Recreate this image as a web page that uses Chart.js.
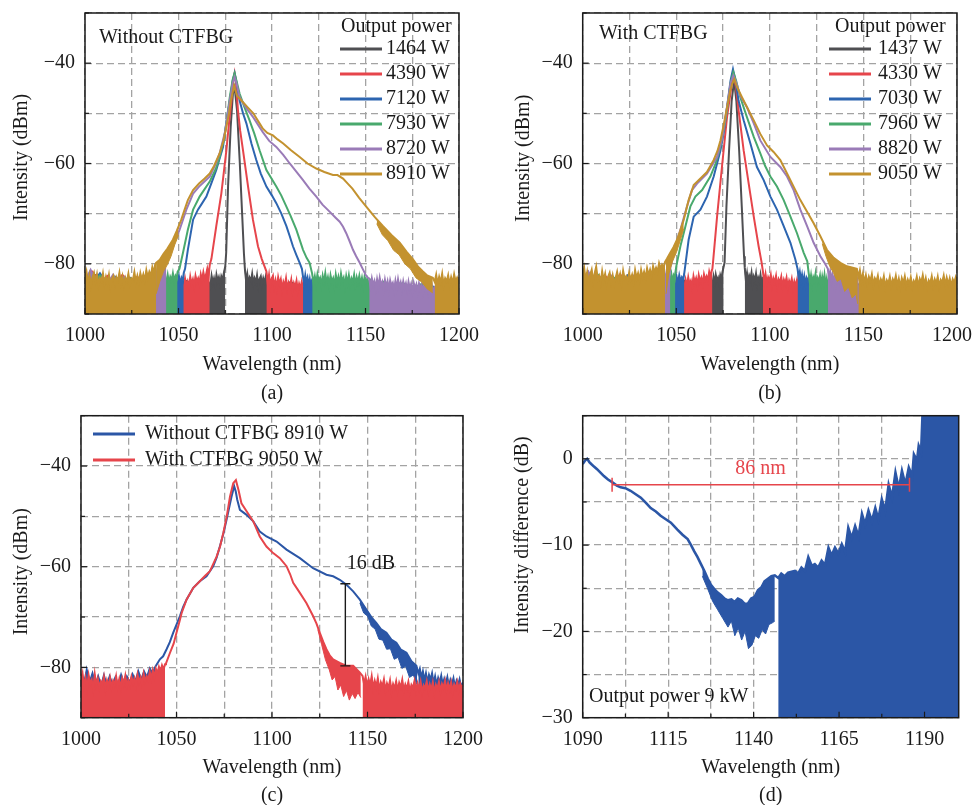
<!DOCTYPE html>
<html>
<head>
<meta charset="utf-8">
<script src="https://cdn.jsdelivr.net/npm/chart.js@4.4.1/dist/chart.umd.min.js"></script>
<style>
  html, body { margin: 0; padding: 0; background: #fff; width: 974px; height: 805px; overflow: hidden; }
  canvas { position: absolute; }
</style>
</head>
<body>
<canvas id="chartA" width="487" height="410" style="left:0;top:0"></canvas>
<canvas id="chartB" width="487" height="410" style="left:487px;top:0"></canvas>
<canvas id="chartC" width="487" height="410" style="left:0;top:400px"></canvas>
<canvas id="chartD" width="487" height="410" style="left:487px;top:400px"></canvas>
<script>
// ── Data: spectra, [wavelength nm, intensity dBm] ──
const wlTicks = [1000, 1025, 1050, 1075, 1100, 1125, 1150, 1175, 1200];
const dbmTicks = [-90, -80, -70, -60, -50, -40, -30];

// (a) without CTFBG
const aLabels = ['1464 W', '4390 W', '7120 W', '7930 W', '8720 W', '8910 W'];
const a1464 = [[1000,-83.5],[1006,-82.2],[1012,-84],[1018,-82.8],[1024,-84.3],[1030,-83],[1036,-84.2],[1042,-83.2],[1048,-84.5],[1054,-83.4],[1060,-84.5],[1066,-83.6],
  [1067,-84.6],[1067.7,-82.4],[1068.4,-83.9],[1069,-82.9],[1069.7,-84.3],[1070.3,-82.2],[1071,-83.5],[1071.6,-82.7],[1072.3,-84.1],[1072.9,-82.5],[1073.6,-83.2],[1074.2,-81.9],[1075,-80.5],
  [1075.5,-77.8],[1076.5,-64.6],[1077.9,-52.7],[1079.1,-46.1],[1080,-44.8],[1081.3,-49.4],[1082.7,-59.3],[1084.1,-70.6],[1085,-78],
  [1085.5,-81],[1086.2,-83.6],[1086.8,-82.1],[1087.5,-84.2],[1088.1,-82.8],[1088.8,-83.4],[1089.4,-82],[1090.1,-84],[1090.7,-82.9],[1091.4,-83.7],[1092,-82.3],[1092.7,-84.4],[1093.3,-83.1],[1094,-82.5],[1094.6,-84.2],[1095.3,-82.9],[1095.9,-83.8],[1096.6,-82.6],[1097.3,-84.1],
  [1100,-83.2],[1105,-84.8],[1110,-83.6],[1116,-85],[1122,-84],[1130,-85.3],[1140,-84.5],[1150,-85.5],[1160,-84.6],[1170,-85.6],[1180,-84.8],[1190,-85.5],[1200,-85.2]];
const a4390 = [[1000,-83],[1004,-81.6],[1008,-83.8],[1012,-82.4],[1016,-84.2],[1020,-82.2],[1024,-84],[1028,-82.6],[1032,-84.2],[1036,-82.8],[1040,-84],[1044,-83.2],[1048,-84.4],[1051,-83.4],
  [1052.8,-84.6],[1053.5,-82.9],[1054.2,-84.3],[1054.9,-83.5],[1055.6,-84.8],[1056.3,-82.6],[1057,-84],[1057.7,-83.1],[1058.4,-84.5],[1059.1,-82.4],[1059.8,-83.6],[1060.5,-82.9],[1061.2,-84],[1061.9,-82.1],[1062.6,-83.3],[1063.3,-81.7],[1064,-83],[1064.7,-82.2],[1065.4,-81],[1066.1,-82.4],[1066.7,-80.2],
  [1067.6,-79],[1070.2,-72.5],[1072.9,-66],[1075.6,-57.4],[1077,-52],[1078.3,-47.5],[1079.3,-43.5],[1080,-42],[1080.8,-44],[1081.8,-49.4],[1083,-53.5],[1084.5,-57.4],[1087.2,-64.6],[1089.8,-71.2],[1092.5,-76.5],[1094.5,-79],[1096,-80.5],
  [1097,-81.5],[1097.7,-83.8],[1098.4,-82.2],[1099.1,-84.5],[1099.8,-83],[1100.5,-82.4],[1101.2,-84.6],[1101.9,-83.3],[1102.6,-84.9],[1103.3,-82.7],[1104,-84],[1104.7,-83.1],[1105.4,-85.2],[1106.1,-83.6],[1106.8,-84.4],[1107.5,-82.9],[1108.2,-85],[1108.9,-83.8],[1109.6,-84.6],[1110.3,-83.2],[1111,-85.3],[1111.7,-83.9],[1112.4,-84.7],[1113.1,-83.4],[1113.8,-85.4],[1114.5,-84],[1115.2,-84.9],[1115.9,-83.6],[1116.6,-85.2],
  [1120,-84],[1125,-85.2],[1130,-84.2],[1136,-85.5],[1142,-84.4],[1150,-85.6],[1160,-84.6],[1170,-85.6],[1180,-84.8],[1190,-85.6],[1200,-85]];
const a7120 = [[1000,-82.4],[1004,-83.9],[1008,-81.9],[1012,-84.2],[1016,-82.6],[1020,-84.4],[1024,-82.8],[1028,-84],[1032,-83],[1036,-84.3],[1040,-83.1],[1044,-84.2],[1048,-83.2],
  [1049.5,-83.8],[1050.2,-82.4],[1050.9,-84.1],[1051.6,-82.8],[1052.3,-83.4],[1052.8,-81.8],
  [1053.5,-81],[1055,-77.2],[1057.8,-71.2],[1060.4,-69.2],[1062.5,-68],[1064.9,-66.6],[1067.5,-64],[1070.2,-61.3],[1072,-59],[1073.8,-56.7],[1075.5,-52],[1077.4,-47.5],[1079,-43.5],[1080,-42],[1081,-43.8],[1082.7,-47.5],[1084.5,-50],[1086.3,-52],[1089,-56],[1091.6,-59.3],[1094,-62],[1097,-64.6],[1100,-66.4],[1102.3,-67.9],[1105,-70],[1107.7,-72.5],[1109.5,-74.5],[1111.2,-76.5],[1113,-78.2],[1114.8,-79.8],[1116,-81],
  [1116.6,-82.6],[1117.2,-84],[1117.8,-82.3],[1118.4,-83.7],[1119,-82.8],[1119.6,-84.4],[1120.2,-83.1],[1120.8,-84.6],[1121.4,-83.3],
  [1124,-84.5],[1128,-83.3],[1132,-84.7],[1136,-83.5],[1140,-84.8],[1145,-83.6],[1150,-85],[1156,-84.1],[1162,-85.2],[1170,-84.4],[1178,-85.1],[1186,-84.5],[1194,-85.3],[1200,-84.8]];
const a7930 = [[1000,-82.6],[1004,-84],[1008,-82.3],[1012,-84.2],[1016,-82.7],[1020,-84.1],[1024,-82.9],[1028,-84.4],[1032,-83],[1036,-84],[1040,-83],
  [1043.5,-83.6],[1044.2,-82.2],[1044.9,-84],[1045.6,-82.6],[1046.3,-83.3],[1047,-81.9],[1047.7,-83.5],[1048.4,-82.4],[1049.1,-82.9],[1049.5,-81.6],
  [1050.5,-81],[1052.4,-77.8],[1055,-73.2],[1057.8,-69.2],[1061.3,-66.6],[1066.7,-63.6],[1070,-61],[1072,-58.7],[1074.5,-55],[1077.4,-46.8],[1079,-43.2],[1080,-42],[1081,-43.5],[1082.7,-46.1],[1085,-48.5],[1088,-51.4],[1090.5,-54],[1093.4,-57.4],[1097,-61.3],[1102.3,-64.6],[1105,-66.4],[1107.7,-68.6],[1110,-70.5],[1113,-73.2],[1116.6,-77.2],[1118.5,-78.8],[1120.1,-79.8],
  [1121.5,-82],[1122.2,-83.9],[1122.9,-82.5],[1123.6,-84.2],[1124.3,-82.1],[1125,-83.4],[1125.7,-82.8],[1126.4,-84.3],[1127.1,-82.4],[1127.8,-83.7],[1128.5,-81.9],[1129.2,-83.9],[1129.9,-82.7],[1130.6,-84.4],[1131.3,-82.3],[1132,-83.6],[1132.7,-82.9],[1133.4,-84.5],[1134.1,-82.2],[1134.8,-83.8],[1135.5,-82.6],[1136.2,-84.1],[1136.9,-82],[1137.6,-83.5],[1138.3,-82.8],[1139,-84.6],[1139.7,-82.5],[1140.4,-83.9],[1141.1,-82.3],[1141.8,-84.2],[1142.5,-82.9],[1143.2,-83.6],[1143.9,-82.2],[1144.6,-84.4],[1145.3,-82.7],[1146,-83.8],[1146.7,-82.4],[1147.4,-84.1],[1148.1,-82.8],[1148.8,-84.5],[1149.5,-82.6],[1150.2,-83.9],[1150.9,-83],[1151.6,-84.3],[1152.3,-83.1],
  [1156,-84.5],[1160,-83.5],[1165,-84.8],[1170,-83.8],[1175,-85],[1180,-84],[1185,-85],[1190,-84.2],[1195,-85.2],[1200,-84.5]];
const a8720 = [[1000,-83.5],[1003,-81.2],[1006,-83.8],[1009,-82.8],[1012,-84],[1015,-82.2],[1018,-84.3],[1021,-82.6],[1024,-84],[1027,-82.8],[1030,-83.5],[1033,-82],[1036,-83],
  [1037,-82.2],[1037.7,-83.4],[1038.4,-81.8],[1039.1,-83],[1039.8,-81.4],[1040.5,-82.6],[1041.2,-80.9],[1041.9,-81.8],[1042.6,-80.3],[1043.5,-79.8],
  [1044.4,-79],[1047,-76.5],[1050.6,-73.2],[1054.2,-69.2],[1057.8,-66],[1061,-64.6],[1066.7,-62.6],[1070,-60],[1072,-58],[1075,-53.5],[1077.4,-47.5],[1079,-44],[1080,-42.8],[1081,-44],[1082.7,-46.8],[1086,-48.8],[1090,-50.8],[1095,-53.7],[1098.5,-55.5],[1102.3,-56.7],[1106,-58.3],[1109.5,-60],[1113,-61.6],[1116.6,-63.3],[1120,-65],[1123.7,-66.6],[1127,-68.2],[1130.8,-69.6],[1134,-70.8],[1136.2,-71.6],[1138,-72.6],[1139.7,-73.9],[1141.5,-75.5],[1143.3,-77.2],[1145,-78.5],[1146.9,-79.8],[1148.5,-81],[1150.4,-82.4],
  [1152,-83],[1152.7,-84.6],[1153.4,-82.9],[1154.1,-84.2],[1154.8,-83.4],[1155.5,-85],[1156.2,-83.1],[1156.9,-84.5],[1157.6,-82.8],[1158.3,-84.3],[1159,-83.6],[1159.7,-85.1],[1160.4,-83.2],[1161.1,-84.7],[1161.8,-83.5],[1162.5,-85.2],[1163.2,-83.3],[1163.9,-84.4],[1164.6,-83.8],[1165.3,-85.3],[1166,-83.4],[1166.7,-84.9],[1167.4,-83.1],[1168.1,-84.6],[1168.8,-83.7],[1169.5,-85.2],[1170.2,-83.5],[1170.9,-84.8],[1171.6,-83.9],[1172.3,-85.4],[1173,-83.6],[1173.7,-85],[1174.4,-84],[1175.1,-85.5],[1175.8,-83.8],[1176.5,-84.9],[1177.2,-84.1],[1177.9,-85.6],[1178.6,-83.9],[1179.3,-85.1],[1180,-84.2],[1180.7,-85.7],[1181.4,-84],[1182.1,-85.3],[1182.8,-84.4],[1183.5,-85.8],[1184.2,-84.1],[1184.9,-85.4],[1185.6,-84.5],[1186.3,-85.9],[1187,-84.6],
  [1190,-85.2],[1194,-84.8],[1197,-85.6],[1200,-85]];
const a8910 = [[1000,-83],[1000.8,-81.6],[1001.6,-83.9],[1002.4,-82.3],[1003.2,-84.4],[1004,-82.7],[1004.8,-81.8],[1005.6,-83.6],[1006.4,-82.1],[1007.2,-84.2],[1008,-82.9],[1008.8,-83.5],[1009.6,-81.9],[1010.4,-84],[1011.2,-82.6],[1012,-83.8],[1012.8,-82.2],[1013.6,-84.5],[1014.4,-83],[1015.2,-82.4],[1016,-84.1],[1016.8,-82.7],[1017.6,-83.4],[1018.4,-81.8],[1019.2,-83.9],[1020,-82.5],[1020.8,-84.3],[1021.6,-82.8],[1022.4,-83.6],[1023.2,-82],[1024,-84],[1024.8,-82.9],[1025.6,-83.3],[1026.4,-81.7],[1027.2,-83.7],[1028,-82.4],[1028.8,-83.8],[1029.6,-81.9],[1030.4,-83.2],[1031.2,-82.1],[1032,-83.4],[1032.8,-81.3],[1033.6,-82.8],[1034.4,-81.6],[1035.2,-82.4],[1036,-80.7],[1036.8,-81.9],[1037.5,-80.2],[1038,-79.8],
  [1040,-79.2],[1042,-78],[1044,-77],[1047,-75.2],[1049,-73.5],[1051.5,-71.2],[1053,-69.5],[1055,-67.3],[1057.8,-65.3],[1061,-64],[1064,-63],[1066.7,-62],[1069,-60.5],[1072,-58],[1074,-55.5],[1075.6,-52.7],[1077,-50],[1078,-47.5],[1079.7,-44.5],[1081.3,-46.5],[1084.5,-47.8],[1087,-48.8],[1090,-50],[1092.5,-51.5],[1095,-53],[1097.5,-53.9],[1100.5,-54.4],[1103,-55.2],[1106,-56],[1110,-57.3],[1114.8,-58.7],[1119,-60],[1123.7,-61],[1128,-61.7],[1132.6,-62.3],[1135,-62.3],[1138,-63],[1140.5,-64],[1143,-65],[1146.5,-66.8],[1150.4,-68.6],[1155,-70.7],[1159.4,-72.5],[1164,-74.3],[1168.3,-75.8],[1172,-77.6],[1175.4,-79.1],[1178,-80.5],[1180.7,-81.5],[1183,-82.3],[1186,-82.8],
  [1187,-83.6],[1187.8,-82.2],[1188.6,-84.1],[1189.4,-82.6],[1190.2,-83.7],[1191,-82],[1191.8,-84.3],[1192.6,-82.9],[1193.4,-83.5],[1194.2,-82.3],[1195,-84.2],[1195.8,-82.7],[1196.6,-83.9],[1197.4,-82.1],[1198.2,-83.6],[1199,-82.8],[1200,-83.8]];
// lower edge of the broad noisy parts of the 8910 W trace
const a8910Low = [
  [[1038,-86],[1040,-83.5],[1042,-81.5],[1044,-80.2],[1046,-78.5],[1048,-76.2],[1050,-74.3]],
  [[1156,-72],[1159,-74.2],[1162,-75.4],[1165,-77.3],[1168,-78.2],[1171,-80],[1174,-81],[1177,-82.8],[1180,-83.6],[1183,-85],[1186,-85.8]]
];
// where each trace sinks into the noise floor (left edge, right edge), nm
const aNoiseEdges = [[1075, 1085.5], [1067, 1097], [1052.8, 1116.5], [1049.5, 1121], [1043.5, 1152], [1038, 1187]];

// (b) with CTFBG
const bLabels = ['1437 W', '4330 W', '7030 W', '7960 W', '8820 W', '9050 W'];
const b1437 = [[1000,-83.8],[1006,-82.4],[1012,-84.2],[1018,-82.8],[1024,-84.5],[1030,-83],[1036,-84.3],[1042,-83.2],[1048,-84.6],[1054,-83.3],[1060,-84.6],[1066,-83.4],
  [1069.3,-84.3],[1069.9,-82.6],[1070.5,-83.9],[1071.1,-82.2],[1071.7,-83.4],[1072.3,-82.8],[1072.9,-84],[1073.5,-82.3],[1074.1,-83.1],[1074.7,-81.6],[1075.3,-80.6],
  [1075.8,-79.8],[1076.8,-68.6],[1078.2,-57.4],[1079.6,-47.5],[1080.9,-43.5],[1082.1,-47.5],[1083.6,-57.4],[1085,-68.6],[1086.2,-78.5],
  [1086.6,-80.8],[1087.2,-83.3],[1087.8,-81.9],[1088.4,-83.8],[1089,-82.4],[1089.6,-83.1],[1090.2,-81.8],[1090.8,-83.9],[1091.4,-82.6],[1092,-83.4],[1092.6,-82],[1093.2,-84.1],[1093.8,-82.8],[1094.4,-83.5],[1095,-82.2],[1095.6,-84],[1096.2,-82.9],
  [1100,-84.6],[1105,-83.3],[1110,-84.8],[1116,-83.6],[1122,-85],[1130,-84],[1140,-85.3],[1150,-84.3],[1160,-85.4],[1170,-84.5],[1180,-85.4],[1190,-84.6],[1200,-85.3]];
const b4330 = [[1000,-83.4],[1004,-81.9],[1008,-84],[1012,-82.4],[1016,-84.2],[1020,-82.1],[1024,-84.3],[1028,-82.6],[1032,-84],[1036,-82.8],[1040,-84.4],[1044,-83],[1048,-84.4],[1052,-83.2],
  [1054.3,-84.8],[1055,-83.2],[1055.7,-84.5],[1056.4,-82.7],[1057.1,-84.1],[1057.8,-83.4],[1058.5,-84.7],[1059.2,-82.5],[1059.9,-83.8],[1060.6,-82.9],[1061.3,-84.3],[1062,-82.3],[1062.7,-83.6],[1063.4,-82.8],[1064.1,-84],[1064.8,-82.1],[1065.5,-83.2],[1066.2,-82.5],[1066.9,-83.4],[1067.6,-81.6],[1068.3,-82.7],[1068.9,-81.4],[1069.3,-81],
  [1069.8,-79],[1071.8,-70.6],[1074.4,-60.7],[1077.1,-50.8],[1079.8,-43.8],[1081,-42.8],[1082,-45],[1083.3,-49.4],[1086,-57.4],[1088.7,-64],[1091.4,-70.6],[1094,-76.5],[1095.5,-79.5],
  [1096.3,-81.5],[1097,-83.6],[1097.7,-82.1],[1098.4,-84],[1099.1,-82.7],[1099.8,-83.4],[1100.5,-82.2],[1101.2,-84.3],[1101.9,-82.9],[1102.6,-83.7],[1103.3,-82.4],[1104,-84.5],[1104.7,-83.1],[1105.4,-83.8],[1106.1,-82.6],[1106.8,-84.6],[1107.5,-83.2],[1108.2,-84],[1108.9,-82.8],[1109.6,-84.8],[1110.3,-83.4],[1111,-84.2],[1111.7,-83],[1112.4,-84.9],[1113.1,-83.5],[1113.8,-84.4],[1114.5,-83.2],[1115.2,-85],
  [1120,-83.6],[1125,-85.2],[1130,-84],[1136,-85.4],[1142,-84.2],[1150,-85.5],[1160,-84.4],[1170,-85.6],[1180,-84.5],[1190,-85.5],[1200,-84.8]];
const b7030 = [[1000,-82.6],[1004,-84.2],[1008,-82.3],[1012,-84.4],[1016,-82.6],[1020,-84.1],[1024,-82.3],[1028,-84.4],[1032,-82.9],[1036,-84.5],[1040,-83.1],[1044,-84.2],[1048,-83.3],
  [1049.5,-84.2],[1050.2,-82.6],[1050.9,-83.9],[1051.6,-82.3],[1052.3,-83.5],[1053,-82.7],[1053.7,-83.2],[1054.3,-81.8],
  [1055,-79.8],[1056.6,-75.2],[1059.3,-70.6],[1062.9,-69.2],[1066.4,-66.6],[1070,-62.6],[1073.6,-57.4],[1075.5,-53.5],[1077.1,-48.8],[1079,-43.5],[1080.3,-41.2],[1081.8,-43.8],[1083.3,-47.5],[1086,-51.4],[1089.6,-56],[1093.1,-60.7],[1096.7,-63.3],[1100.3,-66.6],[1103.8,-69.2],[1107.4,-72.5],[1111,-75.8],[1113.6,-79.1],[1114.8,-81],
  [1115.4,-82.7],[1116,-81.6],[1116.6,-83.4],[1117.2,-82.2],[1117.8,-83.9],[1118.4,-82.5],[1119,-84.1],[1119.6,-82.9],[1120.2,-83.6],[1120.8,-82.6],
  [1124,-84.3],[1128,-83],[1132,-84.6],[1136,-83.3],[1140,-84.7],[1145,-83.5],[1150,-84.9],[1156,-83.9],[1162,-85.1],[1170,-84.2],[1178,-85.2],[1186,-84.3],[1194,-85],[1200,-84.6]];
const b7960 = [[1000,-82.2],[1004,-84],[1008,-82.1],[1012,-84.3],[1016,-82.5],[1020,-84],[1024,-82.8],[1028,-84.4],[1032,-82.6],[1036,-84],[1040,-83],[1044,-84.2],
  [1046.8,-83.4],[1047.4,-82.1],[1048,-83.7],[1048.6,-82.4],[1049.2,-83],[1049.5,-81.8],
  [1050,-80.5],[1052.2,-76.5],[1054.9,-72.5],[1057.5,-68.6],[1060.2,-66.6],[1063.8,-65.3],[1068.2,-62.6],[1071,-60],[1073.6,-56.7],[1075.5,-53],[1077.1,-49.4],[1079,-44],[1080.5,-41.8],[1082,-43.5],[1084.2,-46.8],[1087.8,-50.8],[1091.4,-54.7],[1094.9,-58],[1097.5,-60.5],[1100.3,-62.6],[1103.8,-64.6],[1107.4,-67.3],[1111,-70.6],[1114.5,-73.9],[1118.1,-77.8],[1120,-79.5],
  [1120.8,-82],[1121.4,-83.8],[1122,-82.3],[1122.6,-84.1],[1123.2,-82.7],[1123.8,-83.4],[1124.4,-82],[1125,-84.2],[1125.6,-82.9],[1126.2,-83.6],[1126.8,-82.4],[1127.4,-84.4],[1128,-82.6],[1128.6,-83.9],[1129.2,-82.2],[1129.8,-84.3],[1130.4,-83],[1131,-84.5],
  [1135,-83],[1139,-84.6],[1143,-83.2],[1147,-84.8],[1152,-83.5],[1158,-85],[1164,-83.6],[1170,-85.2],[1176,-83.8],[1182,-85],[1188,-84],[1194,-85.2],[1200,-84.4]];
const b8820 = [[1000,-83],[1003,-81.5],[1006,-84],[1009,-82.5],[1012,-84.2],[1015,-82.3],[1018,-84],[1021,-82.6],[1024,-84.3],[1027,-82.4],[1030,-84],[1033,-82.8],[1036,-84],[1039,-83],[1042,-82.5],
  [1044,-83.2],[1044.6,-81.9],[1045.2,-82.9],[1045.8,-81.5],[1046.4,-82.2],[1046.8,-80.8],
  [1047.5,-79.8],[1049.5,-76.5],[1052.2,-73.2],[1055.7,-68.6],[1058.4,-65.3],[1061.1,-64],[1066.4,-62],[1071.8,-58.7],[1074.5,-55],[1077.1,-48.8],[1079,-44],[1080.5,-42.5],[1082,-43.8],[1084.2,-46.5],[1087.8,-48.8],[1091.4,-52],[1094.9,-55.4],[1100.3,-58.7],[1105.6,-60.7],[1109.2,-62.6],[1112.7,-65.3],[1116.3,-69.2],[1119.9,-72.5],[1123.4,-75.8],[1127,-78.5],[1129.5,-80],[1131,-81],
  [1131.6,-82.8],[1132.2,-81.6],[1132.8,-83.4],[1133.4,-82.1],[1134,-83.9],[1134.6,-82.4],[1135.2,-84.2],[1135.8,-82.6],[1136.4,-83.5],[1137,-82.2],[1137.6,-84.3],[1138.2,-82.9],[1138.8,-83.7],[1139.4,-82.5],[1140,-84.5],[1140.6,-83],[1141.2,-83.9],[1141.8,-82.7],[1142.4,-84.6],[1143,-83.2],[1143.6,-84.1],[1144.2,-82.8],[1144.8,-84.7],[1145.4,-83.4],[1146,-84.2],[1146.6,-83],[1147.2,-84.8],
  [1150,-83.5],[1155,-85],[1160,-84],[1165,-85.3],[1170,-84.2],[1175,-85.3],[1180,-84.4],[1185,-85],[1190,-84],[1195,-85.2],[1200,-84.5]];
const b9050 = [[1000,-82.5],[1000.8,-80.9],[1001.6,-83.4],[1002.4,-81.7],[1003.2,-83.9],[1004,-82.2],[1004.8,-81.2],[1005.6,-83.5],[1006.4,-81.9],[1007.2,-80.6],[1008,-83.1],[1008.8,-82.4],[1009.6,-83.8],[1010.4,-81.5],[1011.2,-83.3],[1012,-82],[1012.8,-84],[1013.6,-82.6],[1014.4,-81.8],[1015.2,-83.7],[1016,-82.3],[1016.8,-84.1],[1017.6,-82.8],[1018.4,-81.6],[1019.2,-83.4],[1020,-82.1],[1020.8,-83.9],[1021.6,-81.4],[1022.4,-83],[1023.2,-82.5],[1024,-83.6],[1024.8,-81.8],[1025.6,-83.2],[1026.4,-82.2],[1027.2,-83.7],[1028,-81.3],[1028.8,-82.9],[1029.6,-81.9],[1030.4,-83.3],[1031.2,-81.2],[1032,-82.7],[1032.8,-81.6],[1033.6,-82.9],[1034.4,-80.9],[1035.2,-82.3],[1036,-81.2],[1036.8,-82.5],[1037.6,-80.5],[1038.4,-81.7],[1039.2,-80.8],[1040,-81.6],[1040.8,-79.9],[1041.6,-81],[1042.4,-80.2],[1043.2,-80.8],[1044,-79.6],
  [1045,-79],[1046.8,-77.8],[1048.5,-76.7],[1050.4,-75.2],[1052,-73.5],[1054,-71.2],[1056.6,-67.3],[1059.3,-64.3],[1062.9,-63],[1066.4,-61.7],[1070,-59.3],[1072,-57.5],[1073.6,-55.4],[1075.5,-52],[1077.1,-48.8],[1079,-45.2],[1080,-44],[1081,-43.2],[1082.5,-44.8],[1085.1,-46.8],[1087.8,-48.8],[1091.4,-51.4],[1094.9,-54.1],[1098.5,-56.4],[1102,-57.7],[1105.6,-59.3],[1109.2,-62],[1112.7,-64.6],[1116.3,-67.3],[1119.9,-69.6],[1123.4,-71.9],[1127,-74.5],[1130.5,-77.2],[1134.1,-78.8],[1137.7,-79.8],[1141.2,-80.5],[1144.8,-80.8],[1146.5,-81],
  [1147.3,-82.6],[1148.1,-81.3],[1148.9,-83.4],[1149.7,-82],[1150.5,-83.7],[1151.3,-82.3],[1152.1,-84.1],[1152.9,-82.6],[1153.7,-83.5],[1154.5,-82.1],[1155.3,-84.2],[1156.1,-82.9],[1156.9,-83.6],[1157.7,-82.4],[1158.5,-84.4],[1159.3,-83.1],[1160.1,-83.9],[1160.9,-82.5],[1161.7,-84.6],[1162.5,-83.3],[1163.3,-84],[1164.1,-82.6],[1164.9,-84.5],[1165.7,-83.1],[1166.5,-83.8],[1167.3,-82.4],[1168.1,-84.3],[1168.9,-83],[1169.7,-84.7],[1170.5,-82.9],[1171.3,-83.9],[1172.1,-82.5],[1172.9,-84.4],[1173.7,-83.2],[1174.5,-84.1],[1175.3,-82.7],[1176.1,-84.6],[1176.9,-83.4],[1177.7,-84],[1178.5,-82.6],[1179.3,-84.5],[1180.1,-83],[1180.9,-83.8],[1181.7,-82.3],[1182.5,-84.2],[1183.3,-82.9],[1184.1,-84.7],[1184.9,-83.3],[1185.7,-83.9],[1186.5,-82.5],[1187.3,-84.4],[1188.1,-83.1],[1188.9,-84],[1189.7,-82.6],[1190.5,-84.6],[1191.3,-83.2],[1192.1,-83.7],[1192.9,-82.4],[1193.7,-84.3],[1194.5,-82.8],[1195.3,-84.1],[1196.1,-82.9],[1196.9,-84.5],[1197.7,-83.1],[1198.5,-83.8],[1199.3,-82.7],[1200,-83.6]];
const b9050Low = [
  [[1044.5,-86],[1046,-82],[1048,-79.5],[1050,-77.8],[1052,-75.5],[1054,-73]],
  [[1128,-76],[1130,-78.5],[1132,-80.5],[1134,-81.8],[1136,-83.5],[1138,-83],[1140,-85.5],[1142,-84.6],[1144,-86.8],[1146,-86],[1147,-88]]
];
const bNoiseEdges = [[1075.3, 1086.6], [1069.3, 1096], [1054.3, 1114.8], [1049.5, 1120.2], [1046.8, 1131], [1044.5, 1147]];

// (c) comparison at full power
const cLabels = ['Without CTFBG 8910 W', 'With CTFBG 9050 W'];
const cWithout = [[1000,-81.5],[1001.5,-83.5],[1003,-80.5],[1004.5,-83],[1006,-81.2],[1007.5,-83.5],[1009,-81.8],[1010.5,-83.8],[1012,-81.6],[1013.5,-83.6],[1015,-81.8],[1016.5,-83.4],[1018,-82],[1019.5,-83.6],[1021,-81.5],[1022.5,-83.2],[1024,-81.8],[1025.5,-83],[1027,-81.4],[1028.5,-82.8],[1030,-80.8],[1031.5,-82.5],[1033,-80.8],[1034.5,-82],[1036,-80.2],[1037.5,-81.2],[1039,-79.8],
  [1041.3,-78.4],[1043,-77.8],[1044.8,-76.4],[1046.5,-75],[1048.3,-73.1],[1050,-71.5],[1051.8,-69.8],[1053.5,-68],[1055.3,-66.5],[1058.8,-64.2],[1062.2,-62.9],[1065.7,-61.9],[1069.2,-59.9],[1071,-58.2],[1072.7,-56],[1074.5,-53.5],[1076.2,-50.7],[1078.8,-46.1],[1080.2,-44],[1081,-45],[1081.8,-46.7],[1083.2,-48.7],[1086.7,-49.7],[1090.2,-51],[1093.6,-53],[1097.1,-54],[1102.4,-55],[1107.6,-56.6],[1114.6,-58.3],[1121.5,-60.3],[1128.5,-61.6],[1132,-61.9],[1135.5,-62.6],[1139,-63.6],[1142.5,-64.9],[1145.9,-66.5],[1149.4,-68.5],[1152,-70],[1154.7,-71.2],[1157,-72.4],[1159.9,-73.1],[1162.5,-74.5],[1165.1,-75.1],[1167.5,-76.5],[1170.4,-77.1],[1173,-78.8],[1175.6,-79.7],
  [1176.6,-81.2],[1177.4,-80.3],[1178.2,-82],[1179,-80.8],[1179.8,-82.6],[1180.6,-81.2],[1181.4,-83],[1182.2,-81.5],[1183,-82.4],[1183.8,-81.2],[1184.6,-83.2],[1185.4,-81.8],[1186.2,-83.5],[1187,-82.1],[1187.8,-83.1],[1188.6,-81.7],[1189.4,-83.6],[1190.2,-82.3],[1191,-83.3],[1191.8,-82],[1192.6,-83.8],[1193.4,-82.5],[1194.2,-83.4],[1195,-82.2],[1195.8,-84],[1196.6,-82.7],[1197.4,-83.6],[1198.2,-82.4],[1199,-83.9],[1200,-83]];
const cWithoutLow = [[[1146,-67.2],[1148,-69.2],[1150,-69.8],[1152,-71.8],[1154,-72.4],[1156,-74.4],[1158,-74.6],[1160,-76.4],[1162,-76.3],[1164,-78.4],[1166,-78],[1168,-80.2],[1170,-79.8],[1172,-82],[1174,-81.5],[1176,-83.5]]];
const cWith = [[1000,-82.5],[1000.8,-81.2],[1001.6,-83.8],[1002.4,-82.1],[1003.2,-84.2],[1004,-81.6],[1004.8,-83.3],[1005.6,-82.5],[1006.4,-84.4],[1007.2,-81.4],[1008,-83.6],[1008.8,-82.3],[1009.6,-84.1],[1010.4,-82.8],[1011.2,-83.4],[1012,-81.9],[1012.8,-84.3],[1013.6,-82.6],[1014.4,-83.7],[1015.2,-82.1],[1016,-84],[1016.8,-82.7],[1017.6,-83.5],[1018.4,-81.8],[1019.2,-83.9],[1020,-82.4],[1020.8,-84.2],[1021.6,-82.2],[1022.4,-83.3],[1023.2,-81.7],[1024,-83.8],[1024.8,-82.5],[1025.6,-83.6],[1026.4,-81.9],[1027.2,-83.2],[1028,-82.2],[1028.8,-83.7],[1029.6,-81.5],[1030.4,-83],[1031.2,-82],[1032,-83.4],[1032.8,-81.3],[1033.6,-82.8],[1034.4,-81.8],[1035.2,-82.6],[1036,-80.9],[1036.8,-82.3],[1037.6,-80.6],[1038.4,-81.9],[1039.2,-80.3],[1040,-81.2],[1040.8,-79.9],[1041.6,-80.8],[1042.4,-79.6],[1043.2,-80.4],[1044,-79.4],
  [1044.5,-79.2],[1046.6,-77.1],[1048.5,-75.3],[1050,-73.1],[1051.5,-71],[1052.7,-69.2],[1055.3,-66.5],[1058.8,-64.2],[1062.2,-62.9],[1065,-61.8],[1067.5,-60.9],[1071,-58],[1072.8,-56],[1074.5,-53.3],[1076.3,-50],[1078,-46.1],[1079.7,-43.4],[1081.1,-42.8],[1082.5,-44.8],[1084,-47.4],[1086.7,-49],[1090.2,-51],[1093.6,-54],[1097.1,-56],[1100.6,-57.3],[1104.1,-58.3],[1107.6,-59.9],[1109.5,-61.5],[1111.1,-63.2],[1114.6,-65.2],[1118,-67.2],[1121.5,-69.8],[1123.3,-71.3],[1125,-73.1],[1126.8,-74.9],[1128.5,-76.4],[1130.2,-77.6],[1132,-78.4],[1135.5,-79.1],[1139,-79.7],[1142.5,-79.7],[1145.9,-81],
  [1147.4,-81.7],[1148.2,-83.3],[1149,-81.9],[1149.8,-84],[1150.6,-82.4],[1151.4,-83.6],[1152.2,-81.8],[1153,-84.2],[1153.8,-82.7],[1154.6,-83.9],[1155.4,-82.2],[1156.2,-84.5],[1157,-83],[1157.8,-83.8],[1158.6,-82.4],[1159.4,-84.6],[1160.2,-83.2],[1161,-84.1],[1161.8,-82.6],[1162.6,-84.8],[1163.4,-83.3],[1164.2,-84.2],[1165,-82.8],[1165.8,-84.7],[1166.6,-83.1],[1167.4,-84],[1168.2,-82.5],[1169,-84.6],[1169.8,-83.4],[1170.6,-84.3],[1171.4,-82.9],[1172.2,-84.9],[1173,-83.5],[1173.8,-84.1],[1174.6,-82.7],[1175.4,-84.7],[1176.2,-83.2],[1177,-84.4],[1177.8,-82.9],[1178.6,-85],[1179.4,-83.6],[1180.2,-84.2],[1181,-82.8],[1181.8,-84.8],[1182.6,-83.4],[1183.4,-84.5],[1184.2,-83],[1185,-85.1],[1185.8,-83.5],[1186.6,-84.3],[1187.4,-82.9],[1188.2,-84.8],[1189,-83.3],[1189.8,-84.1],[1190.6,-82.7],[1191.4,-84.6],[1192.2,-83.2],[1193,-84.4],[1193.8,-83],[1194.6,-84.9],[1195.4,-83.4],[1196.2,-84.2],[1197,-82.9],[1197.8,-84.6],[1198.6,-83.3],[1199.4,-84.1],[1200,-83.5]];
const cWithLow = [[[1124,-72.5],[1126,-75.5],[1128,-78.5],[1130,-80.5],[1131.5,-82.5],[1133,-81.8],[1134.5,-84.5],[1136,-83.5],[1137.5,-85.8],[1139,-84.6],[1140.5,-86.5],[1142,-85.2],[1143.5,-86.2],[1145,-85],[1146.5,-86]]];
const cNoiseEdges = [[1039, 1176.5], [1044.3, 1147.4]];
const cGap = [[1138.4, -63.4], [1138.4, -79.7]];   // 16 dB marker

// (d) intensity difference, [wavelength nm, dB]
const dWlTicks = [1090, 1102.5, 1115, 1127.5, 1140, 1152.5, 1165, 1177.5, 1190];
const dDbTicks = [-30, -25, -20, -15, -10, -5, 0, 5];
const dDiff = [[1090,-0.6],[1090.7,-0.2],[1091.3,0],[1092,-0.4],[1092.5,-0.6],[1093.3,-0.9],[1094.2,-1.2],[1095.2,-1.6],[1096.2,-2.0],[1097.4,-2.4],[1098.6,-2.7],[1100,-3.1],[1101.1,-3.3],[1102.5,-3.4],[1104,-3.7],[1105.5,-4.1],[1107,-4.5],[1108.5,-5.1],[1109.9,-5.7],[1111.4,-6.1],[1112.8,-6.6],[1114.3,-7],[1115.8,-7.4],[1117.7,-8.2],[1119.2,-8.8],[1120.7,-9.3],[1121.7,-10],[1122.6,-10.7],[1123.6,-11.4],[1124.6,-12.2],[1125.6,-13],[1126.6,-13.9],[1127.5,-14.6],[1128.5,-15.1],[1129.5,-15.5],[1130.5,-15.8],[1131.5,-16.2],[1132.5,-16.4],[1133.5,-16.3],[1134.4,-16.6],[1135.4,-16.2],[1136.4,-16.4],[1137.4,-16.8],[1138.3,-16.8],[1139.3,-16.2],[1140.3,-16],[1141.3,-15.2],[1142.3,-14.9],[1143.2,-14.2],[1144.2,-13.9],[1145.2,-13.6],[1146.2,-13.5],[1147.2,-13.8],[1148.1,-13.3],[1149.1,-13.6],[1150.1,-13.2],[1151.1,-13.1],[1152.1,-13],[1153,-13.3],[1154,-12.6],[1155,-13],[1156,-11.4],[1157,-12.4],[1157.9,-12.2],[1158.9,-12.6],[1159.9,-11.8],[1160.9,-12.3],[1161.9,-10.3],[1162.8,-11.2],[1163.8,-10.3],[1164.8,-11],[1165.8,-9.9],[1166.8,-10.8],[1167.7,-8],[1168.7,-9.2],[1169.7,-7.8],[1170.7,-9],[1171.7,-6.4],[1172.6,-7.6],[1173.6,-6],[1174.6,-7.2],[1175.6,-5.7],[1176.5,-7],[1177.5,-4.7],[1178.5,-6],[1179.5,-3],[1180.5,-4.5],[1181.5,-1.6],[1182.5,-3.5],[1183.4,-1.4],[1184.4,-3],[1185.4,-1],[1186.4,-2],[1186.9,0.5],[1187.8,-0.2],[1188.3,1.5],[1189,0.8],[1189.5,6],[1200,6]];
const dDiffLow = [[1125,-13.6],[1126.5,-15],[1128,-16.5],[1129.5,-17.5],[1131,-18.5],[1132.5,-19.5],[1133.5,-18.8],[1134.5,-20.5],[1135.5,-19.6],[1136.5,-21],[1137.5,-20],[1138.5,-22],[1139.5,-21.6],[1140.5,-20.5],[1141.5,-20.8],[1142.5,-19.8],[1143.5,-20.3],[1144.5,-19.2],[1145.5,-19],[1146.2,-18.8]];
const dNoiseFrom = 1146.5;
const dSpan = [[1098.6, -3], [1185.6, -3]];   // 86 nm marker

// ── Styling ──
const SERIES_COLORS = ['#4f4f52', '#e6454b', '#2d65b0', '#49a96d', '#9a7bb7', '#c3922f'];
const C_BLUE = '#2b56a6', C_RED = '#e6454b';
const INK = '#1a1a1a';
const GRID = '#a3a3a3';
const FONT = "'Liberation Serif', 'Times New Roman', serif";

Chart.defaults.font.family = FONT;
Chart.defaults.font.size = 20;
Chart.defaults.color = INK;

const minus = v => (v < 0 ? '\u2212' + Math.abs(v) : String(v));
const toXY = pts => pts.map(([x, y]) => ({x, y}));

// one spectrum = its trace + filled noise floor on each side
function spectrumSets(points, edges, color, label, order, width) {
  const pts = toXY(points);
  const base = {borderColor: color, backgroundColor: color, pointRadius: 0, tension: 0, order};
  return [
    {...base, label, data: pts, borderWidth: width || 2, fill: false},
    {...base, label: '', data: pts.filter(p => p.x <= edges[0]), borderWidth: 1, fill: 'start'},
    {...base, label: '', data: pts.filter(p => p.x >= edges[1]), borderWidth: 1, fill: 'start'}
  ];
}
// noisy parts of a trace: filled down to a lower edge
function bandSets(lows, color, target, order) {
  return (lows || []).map(low => ({label: '', data: toXY(low), borderColor: color, backgroundColor: color,
    borderWidth: 1, pointRadius: 0, tension: 0, fill: {target}, order}));
}

// lastPad: the rightmost label of panel (b) sits a little left of its tick, as in the original
function xAxis(values, max, every, caption, height, lh, pb, lastPad) {
  const min = values[0];
  return {
    type: 'linear', min, max,
    afterBuildTicks: s => { s.ticks = values.map(v => ({value: v})); },
    ticks: {autoSkip: false, maxRotation: 0, padding: 10,
      callback: v => {
        if (Math.abs((v - min) % every) > 1e-6) return '';
        return v === max && lastPad ? String(v) + lastPad : String(v);
      }},
    grid: {color: GRID, lineWidth: 1.3, drawTicks: false},
    border: {display: false, dash: [7, 4]},
    title: {display: true, text: ['Wavelength (nm)', caption], font: {size: 20, lineHeight: lh}, padding: {top: 0, bottom: pb}},
    afterFit: s => { s.height = height; s.paddingLeft = 0; s.paddingRight = 0; }
  };
}

function yAxis(values, every, width) {
  return {
    type: 'linear', min: values[0], max: values[values.length - 1],
    afterBuildTicks: s => { s.ticks = values.map(v => ({value: v})); },
    ticks: {autoSkip: false, padding: 10, callback: v => (v % every === 0 ? minus(v) : '')},
    grid: {color: GRID, lineWidth: 1.3, drawTicks: false},
    border: {display: false, dash: [7, 4]},
    title: {display: false},
    afterFit: s => { s.width = width; s.paddingTop = 0; s.paddingBottom = 0; }
  };
}

// ── Plugins: frame with inner ticks, in-plot texts and the curve key ──
const framePlugin = {
  id: 'frame',
  afterDraw(chart) {
    const {ctx, chartArea: a, scales: {x, y}} = chart;
    ctx.save();
    ctx.strokeStyle = INK;
    ctx.lineWidth = 1.2;
    x.ticks.forEach(t => {
      const px = x.getPixelForValue(t.value);
      ctx.beginPath(); ctx.moveTo(px, a.bottom); ctx.lineTo(px, a.bottom - (t.label ? 6 : 4)); ctx.stroke();
    });
    y.ticks.forEach(t => {
      const py = y.getPixelForValue(t.value);
      ctx.beginPath(); ctx.moveTo(a.left, py); ctx.lineTo(a.left + (t.label ? 6 : 4), py); ctx.stroke();
    });
    ctx.lineWidth = 1.5;
    ctx.strokeRect(a.left, a.top, a.right - a.left, a.bottom - a.top);
    ctx.restore();
  }
};

const notesPlugin = {
  id: 'notes',
  afterDraw(chart, args, opts) {
    const {ctx, scales: {x, y}} = chart;
    ctx.save();
    ctx.font = '20px ' + FONT;
    ctx.textBaseline = 'middle';
    (opts.texts || []).forEach(n => {
      const px = n.data ? x.getPixelForValue(n.x) : n.x;
      const py = n.data ? y.getPixelForValue(n.y) : n.y;
      ctx.save();
      ctx.translate(px, py);
      if (n.rotate) ctx.rotate(n.rotate * Math.PI / 180);
      ctx.fillStyle = n.color || INK;
      ctx.textAlign = n.align || 'left';
      ctx.fillText(n.text, 0, 0);
      ctx.restore();
    });
    const k = opts.key;
    if (k) {
      ctx.textAlign = 'left';
      if (k.title) { ctx.fillStyle = INK; ctx.fillText(k.title, k.titleX, k.titleY); }
      k.labels.forEach((lab, i) => {
        const py = k.y0 + i * k.dy;
        ctx.strokeStyle = k.colors[i];
        ctx.lineWidth = 3;
        ctx.beginPath(); ctx.moveTo(k.x0, py); ctx.lineTo(k.x1, py); ctx.stroke();
        ctx.fillStyle = INK;
        ctx.fillText(lab, k.textX, py);
      });
    }
    ctx.restore();
  }
};

const baseOptions = (padding) => ({
  responsive: false, animation: false, devicePixelRatio: 1,
  layout: {padding},
  plugins: {legend: {display: false}, tooltip: {enabled: false}}
});

// ── (a) and (b): power series ──
function powerPanel(id, series, labels, edges, lows, yWidth, padRight, caption, lastPad, texts, key) {
  const datasets = [];
  series.forEach((pts, i) => {
    datasets.push(...spectrumSets(pts, edges[i], SERIES_COLORS[i], labels[i], series.length - 1 - i));
  });
  series.forEach((pts, i) => {
    datasets.push(...bandSets(lows[i], SERIES_COLORS[i], 3 * i, series.length - 1 - i));
  });
  const opts = baseOptions({left: 0, top: 13, right: padRight, bottom: 0});
  opts.scales = {
    x: xAxis(wlTicks, 1200, 50, caption, 96, 1.45, 2, lastPad),
    y: yAxis(dbmTicks, 20, yWidth)
  };
  opts.plugins.notes = {
    texts,
    key: {title: 'Output power', titleX: key.titleX, titleY: 27, labels, colors: SERIES_COLORS,
      x0: key.x0, x1: key.x1, textX: key.textX, y0: 49, dy: 25}
  };
  new Chart(document.getElementById(id), {type: 'line', data: {datasets}, options: opts, plugins: [framePlugin, notesPlugin]});
}

powerPanel('chartA', [a1464, a4390, a7120, a7930, a8720, a8910], aLabels, aNoiseEdges,
  [null, null, null, null, null, a8910Low], 85, 28, '(a)', '',
  [{text: 'Without CTFBG', x: 99, y: 38}, {text: 'Intensity (dBm)', x: 21.7, y: 157.5, rotate: -90, align: 'center'}],
  {titleX: 341, x0: 340, x1: 382, textX: 386});
powerPanel('chartB', [b1437, b4330, b7030, b7960, b8820, b9050], bLabels, bNoiseEdges,
  [null, null, null, null, null, b9050Low], 95.7, 17, '(b)', '  ',
  [{text: 'With CTFBG', x: 112, y: 34}, {text: 'Intensity (dBm)', x: 36.7, y: 158.3, rotate: -90, align: 'center'}],
  {titleX: 348, x0: 342, x1: 384, textX: 391});

// ── (c): with / without CTFBG ──
(function () {
  const datasets = [
    ...spectrumSets(cWith, cNoiseEdges[1], C_RED, cLabels[1], 1, 2),
    ...bandSets(cWithLow, C_RED, 0, 1),
    ...spectrumSets(cWithout, cNoiseEdges[0], C_BLUE, cLabels[0], 2, 2),
    ...bandSets(cWithoutLow, C_BLUE, 4, 2),
    {label: '', data: toXY(cGap), borderColor: INK, borderWidth: 1.4, pointStyle: 'line', pointRadius: 5,
      pointBorderColor: INK, pointBorderWidth: 1.4, fill: false, order: 0}
  ];
  const opts = baseOptions({left: 0, top: 15.7, right: 24, bottom: 0});
  opts.scales = {
    x: xAxis(wlTicks, 1200, 50, '(c)', 92.3, 1.42, 0, ''),
    y: yAxis(dbmTicks, 20, 81)
  };
  opts.plugins.notes = {
    texts: [
      {text: '16 dB', x: 1139.1, y: -59.4, data: true},
      {text: 'Intensity (dBm)', x: 21.7, y: 171.7, rotate: -90, align: 'center'}
    ],
    key: {labels: cLabels, colors: [C_BLUE, C_RED], x0: 93, x1: 135, textX: 145, y0: 34, dy: 26}
  };
  new Chart(document.getElementById('chartC'), {type: 'line', data: {datasets}, options: opts, plugins: [framePlugin, notesPlugin]});
})();

// ── (d): intensity difference ──
(function () {
  const pts = toXY(dDiff);
  const datasets = [
    {label: 'Intensity difference', data: pts, borderColor: C_BLUE, borderWidth: 2.6, pointRadius: 0, fill: false, order: 1},
    {label: '', data: pts.filter(p => p.x >= dNoiseFrom), borderColor: C_BLUE, backgroundColor: C_BLUE, borderWidth: 1, pointRadius: 0, fill: 'start', order: 1},
    ...bandSets([dDiffLow], C_BLUE, 0, 1),
    {label: '', data: toXY(dSpan), borderColor: C_RED, borderWidth: 1.5, pointStyle: 'line', rotation: 90, pointRadius: 7,
      pointBorderColor: C_RED, pointBorderWidth: 1.5, fill: false, order: 0}
  ];
  const opts = baseOptions({left: 0, top: 15.7, right: 15.3, bottom: 0});
  opts.scales = {
    x: xAxis(dWlTicks, 1200, 25, '(d)', 92.3, 1.42, 0, ''),
    y: yAxis(dDbTicks, 10, 95.7)
  };
  opts.plugins.notes = {
    texts: [
      {text: '86 nm', x: 1142, y: -1.2, data: true, align: 'center', color: C_RED},
      {text: 'Output power 9 kW', x: 102, y: 297},
      {text: 'Intensity difference (dB)', x: 35.7, y: 135, rotate: -90, align: 'center'}
    ]
  };
  new Chart(document.getElementById('chartD'), {type: 'line', data: {datasets}, options: opts, plugins: [framePlugin, notesPlugin]});
})();
</script>
</body>
</html>
